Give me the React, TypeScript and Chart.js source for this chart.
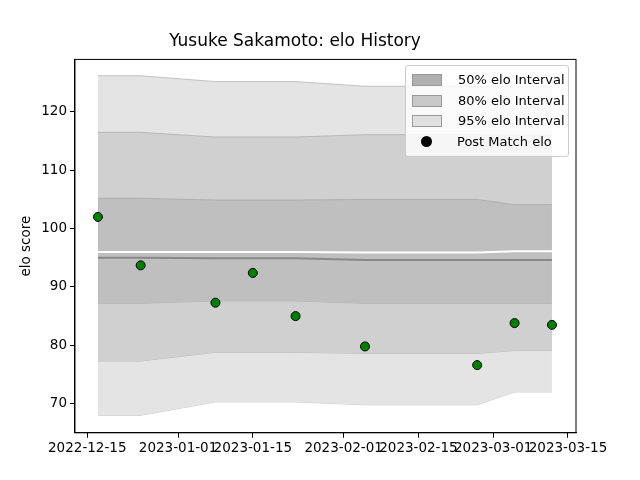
import { useEffect, useRef } from 'react';
import { Chart, registerables } from 'chart.js';

Chart.register(...registerables);

const dates = ['2022-12-17', '2022-12-25', '2023-01-08', '2023-01-15', '2023-01-23', '2023-02-05', '2023-02-26', '2023-03-05', '2023-03-12'];
const postMatch = [102.0, 93.7, 87.3, 92.4, 85.0, 79.8, 76.6, 83.8, 83.5];
const mean = [95.0, 95.0, 94.9, 94.9, 94.9, 94.6, 94.6, 94.6, 94.6];
const median = [96.0, 96.0, 96.0, 96.0, 96.0, 95.9, 95.9, 96.1, 96.1];
const upper50 = [105.2, 105.2, 104.9, 104.9, 104.9, 105.0, 105.0, 104.1, 104.1];
const lower50 = [87.2, 87.2, 87.6, 87.6, 87.6, 87.2, 87.2, 87.2, 87.2];
const upper80 = [116.5, 116.5, 115.7, 115.7, 115.7, 116.1, 116.1, 116.0, 116.0];
const lower80 = [77.3, 77.3, 78.8, 78.8, 78.8, 78.6, 78.6, 79.1, 79.1];
const upper95 = [126.2, 126.2, 125.2, 125.2, 125.2, 124.4, 124.4, 124.4, 124.4];
const lower95 = [68.0, 68.0, 70.3, 70.3, 70.3, 69.8, 69.8, 72.0, 72.0];
const tickDates = ['2022-12-15', '2023-01-01', '2023-01-15', '2023-02-01', '2023-02-15', '2023-03-01', '2023-03-15'];

const t = (d: string) => Date.parse(d + 'T00:00:00Z');
const pts = (ys: number[]) => dates.map((d, i) => ({ x: t(d), y: ys[i] }));
const fmt = (v: number) => new Date(v).toISOString().slice(0, 10);

// matplotlib-style box around the plot area
const frame = {
  id: 'frame',
  afterDraw(chart: any) {
    const { ctx, chartArea: a } = chart;
    ctx.save();
    ctx.strokeStyle = '#000';
    ctx.lineWidth = 1;
    ctx.strokeRect(a.left, a.top, a.right - a.left, a.bottom - a.top);
    ctx.restore();
  },
};

export default function App() {
  const ref = useRef<HTMLCanvasElement>(null);

  useEffect(() => {
    if (!ref.current) return;
    const band = (data: number[], fill: any, bg: string) => ({
      data: pts(data), fill, backgroundColor: bg, borderColor: 'rgba(150,150,150,0.5)',
      borderWidth: 1, pointRadius: 0, tension: 0,
    });
    const chart = new Chart(ref.current, {
      type: 'line',
      data: {
        datasets: [
          { ...band(postMatch, false, 'green'), showLine: false, pointRadius: 4.5, pointBackgroundColor: 'green', pointBorderColor: 'black', pointBorderWidth: 1, order: 0 } as any,
          { data: pts(median), borderColor: 'white', borderWidth: 2, pointRadius: 0, fill: false, order: 1 },
          { data: pts(mean), borderColor: '#888888', borderWidth: 2, pointRadius: 0, fill: false, order: 1 },
          { ...band(upper50, '+1', '#bfbfbf'), order: 2 },
          { ...band(lower50, false, '#bfbfbf'), order: 2 },
          { ...band(upper80, '+1', '#d0d0d0'), order: 3 },
          { ...band(lower80, false, '#d0d0d0'), order: 3 },
          { ...band(upper95, '+1', '#e4e4e4'), order: 4 },
          { ...band(lower95, false, '#e4e4e4'), order: 4 },
        ],
      },
      options: {
        animation: false,
        responsive: false,
        layout: { padding: { left: 14, right: 64, top: 0, bottom: 20 } },
        plugins: {
          legend: { display: false },
          tooltip: { enabled: false },
          title: { display: true, text: 'Yusuke Sakamoto: elo History', color: '#000', font: { size: 17, family: 'DejaVu Sans', weight: 'normal' }, padding: { top: 31, bottom: 8 } },
        },
        scales: {
          x: {
            type: 'linear', min: t('2022-12-12') + 0.7 * 86400000, max: t('2023-03-16') + 0.5 * 86400000,
            afterBuildTicks: (s: any) => { s.ticks = tickDates.map((d) => ({ value: t(d) })); },
            ticks: { callback: (v: any) => fmt(v), color: '#000', maxRotation: 0, autoSkip: false, font: { size: 13.5, family: 'DejaVu Sans' } },
            grid: { drawOnChartArea: false, tickLength: 5, color: '#000' },
            border: { color: '#000' },
          },
          y: {
            min: 65, max: 129,
            afterBuildTicks: (s: any) => { s.ticks = [70, 80, 90, 100, 110, 120].map((v) => ({ value: v })); },
            ticks: { color: '#000', font: { size: 13.5, family: 'DejaVu Sans' } },
            title: { display: true, text: 'elo score', color: '#000', font: { size: 13.5, family: 'DejaVu Sans' } },
            grid: { drawOnChartArea: false, tickLength: 5, color: '#000' },
            border: { color: '#000' },
          },
        },
      },
      plugins: [frame],
    });
    return () => chart.destroy();
  }, []);

  const items = [
    { c: '#b0b0b0', l: '50% elo Interval' },
    { c: '#c8c8c8', l: '80% elo Interval' },
    { c: '#e0e0e0', l: '95% elo Interval' },
  ];

  return (
    <div style={{ position: 'fixed', left: 0, top: 0, width: 640, height: 480, background: '#fff' }}>
      <canvas ref={ref} width={640} height={480} />
      <div style={{ position: 'absolute', left: 405, top: 65, width: 162, padding: '4px 0', background: 'rgba(255,255,255,0.8)', border: '1px solid #ccc', borderRadius: 3, fontFamily: 'DejaVu Sans', fontSize: 13, lineHeight: '20.5px' }}>
        {items.map((it) => (
          <div key={it.l} style={{ display: 'flex', alignItems: 'center' }}>
            <span style={{ display: 'inline-block', width: 28, height: 10, margin: '0 16px 0 6px', background: it.c, border: '1px solid #999' }} />
            {it.l}
          </div>
        ))}
        <div style={{ display: 'flex', alignItems: 'center' }}>
          <span style={{ display: 'inline-block', width: 11, height: 11, borderRadius: '50%', margin: '0 25px 0 15px', background: '#000' }} />
          Post Match elo
        </div>
      </div>
    </div>
  );
}
